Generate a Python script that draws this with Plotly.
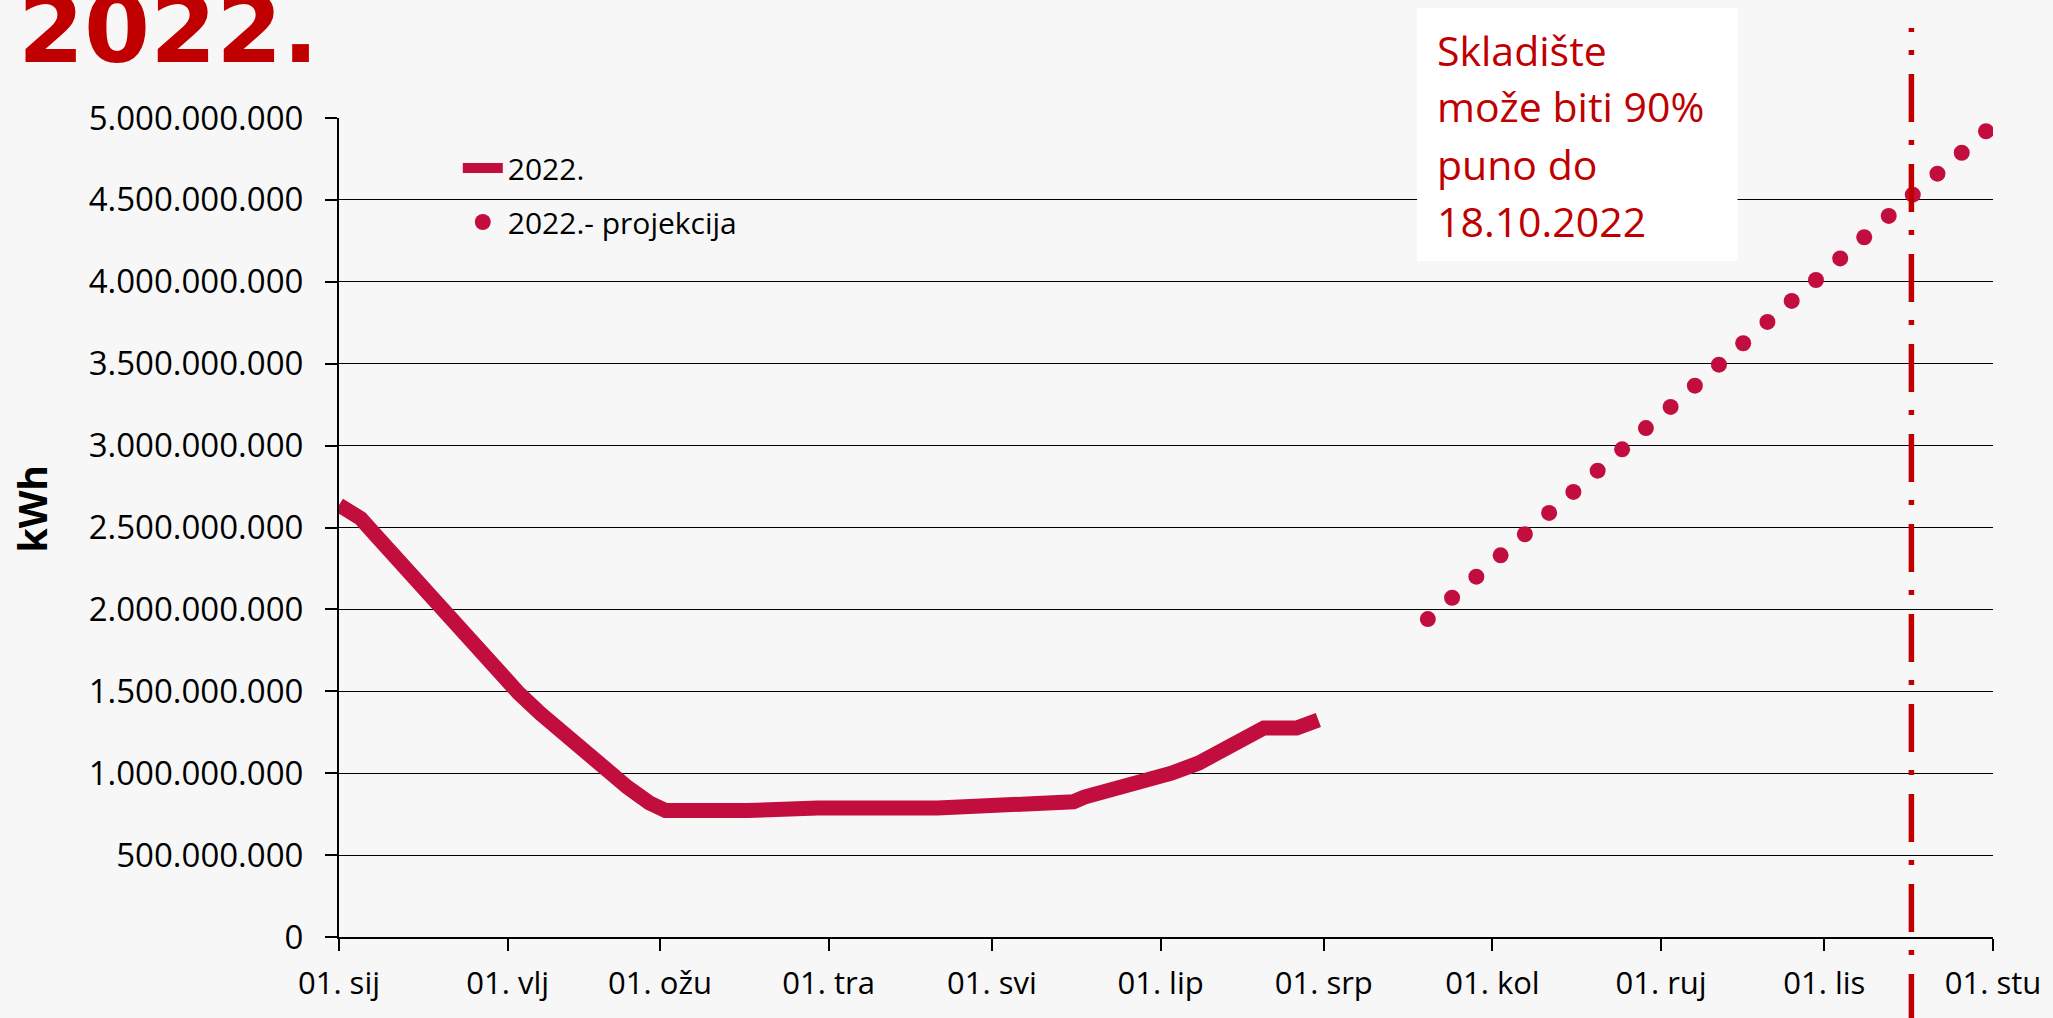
import plotly.graph_objects as go

# ---------------- data ----------------
stock_dates = [
    "2022-01-01", "2022-01-03", "2022-01-05", "2022-01-07", "2022-01-10",
    "2022-01-14", "2022-01-18", "2022-01-22", "2022-01-26", "2022-01-30",
    "2022-02-03", "2022-02-07", "2022-02-11", "2022-02-15", "2022-02-19",
    "2022-02-23", "2022-02-27", "2022-03-02",
    "2022-03-17", "2022-03-30", "2022-04-21", "2022-04-30", "2022-05-11",
    "2022-05-16", "2022-05-18", "2022-05-23", "2022-05-30", "2022-06-03",
    "2022-06-08", "2022-06-12", "2022-06-16", "2022-06-20", "2022-06-26",
    "2022-06-28", "2022-06-30",
]
stock_kwh = [
    2.637e9, 2.600e9, 2.555e9, 2.480e9, 2.370e9,
    2.215e9, 2.065e9, 1.915e9, 1.770e9, 1.625e9,
    1.490e9, 1.365e9, 1.245e9, 1.130e9, 1.020e9,
    0.915e9, 0.820e9, 0.772e9,
    0.772e9, 0.787e9, 0.787e9, 0.800e9, 0.810e9,
    0.826e9, 0.854e9, 0.897e9, 0.952e9, 1.000e9,
    1.062e9, 1.140e9, 1.200e9, 1.276e9, 1.276e9,
    1.300e9, 1.325e9,
]

proj_dates = [
    "2022-07-20 03:00", "2022-07-24 14:00", "2022-07-29 01:00", "2022-08-02 12:00",
    "2022-08-06 23:00", "2022-08-11 10:00", "2022-08-15 21:00", "2022-08-20 08:00",
    "2022-08-24 20:00", "2022-08-29 05:00", "2022-09-02 18:00", "2022-09-07 05:00",
    "2022-09-11 15:00", "2022-09-16 02:00", "2022-09-20 13:00", "2022-09-25 00:00",
    "2022-09-29 11:00", "2022-10-03 22:00", "2022-10-08 08:00", "2022-10-12 20:00",
    "2022-10-17 06:00", "2022-10-21 19:00", "2022-10-26 06:00", "2022-10-30 17:00",
]
proj_kwh = [
    1.941e9, 2.071e9, 2.200e9, 2.330e9, 2.459e9, 2.589e9, 2.717e9, 2.847e9,
    2.977e9, 3.107e9, 3.236e9, 3.366e9, 3.494e9, 3.625e9, 3.755e9, 3.883e9,
    4.011e9, 4.143e9, 4.272e9, 4.402e9, 4.532e9, 4.660e9, 4.788e9, 4.919e9,
]

month_ticks = [
    "2022-01-01", "2022-02-01", "2022-03-01", "2022-04-01", "2022-05-01", "2022-06-01",
    "2022-07-01", "2022-08-01", "2022-09-01", "2022-10-01", "2022-11-01",
]
month_labels = [
    "01. sij", "01. vlj", "01. ožu", "01. tra", "01. svi", "01. lip",
    "01. srp", "01. kol", "01. ruj", "01. lis", "01. stu",
]

full_date = "2022-10-17 00:00"
note_lines = ["Skladište", "može biti 90%", "puno do", "18.10.2022"]
series_names = ["2022.", "2022.- projekcija"]
title_text = "2022."
y_title = "kWh"

# ---------------- layout helpers ----------------
W, H = 2053, 1018
L, R, T, B = 339, 1996, 118, 937
SERIES = "#C20E3F"
DARKRED = "#C00000"
BG = "#F7F7F7"
FONT = "Open Sans"


def px_x(x):
    return (x - L) / (R - L)


def px_y(y):
    return (B - y) / (B - T)


fig = go.Figure()
fig.add_trace(go.Scatter(
    x=stock_dates, y=stock_kwh, mode="lines", name=series_names[0],
    line=dict(color=SERIES, width=15), legendgroup="a",
))
fig.add_trace(go.Scatter(
    x=proj_dates, y=proj_kwh, mode="markers", name=series_names[1],
    marker=dict(color=SERIES, size=16), legendgroup="b",
))

# dash-dot reference line (starts with partial dash at top)
dash_pattern = ",".join(["4px", "18px", "5px", "19px"] + ["48px", "18px", "5px", "19px"] * 12)
fig.add_shape(type="line", xref="x", yref="paper",
              x0=full_date, x1=full_date, y0=px_y(28), y1=px_y(1030),
              line=dict(color=DARKRED, width=5.5, dash=dash_pattern), layer="above")

# white note box
fig.add_shape(type="rect", xref="paper", yref="paper",
              x0=px_x(1419), x1=px_x(1740), y0=px_y(261), y1=px_y(8),
              fillcolor="white", line=dict(width=0), layer="above")

annotations = []
note_centers = [50, 106, 164, 221]
for txt, cy in zip(note_lines, note_centers):
    annotations.append(dict(
        text=txt, xref="paper", yref="paper", x=px_x(1437), y=px_y(cy),
        xanchor="left", yanchor="middle", showarrow=False,
        font=dict(family=FONT, size=41, color=DARKRED),
    ))

annotations.append(dict(
    text="<b>" + title_text + "</b>", xref="paper", yref="paper",
    x=px_x(15), y=px_y(86), xanchor="left", yanchor="bottom", showarrow=False,
    font=dict(family="DejaVu Sans", size=95, color=DARKRED),
))
annotations.append(dict(
    text="<b>" + y_title + "</b>", xref="paper", yref="paper",
    x=px_x(30), y=px_y(509), xanchor="center", yanchor="middle", showarrow=False,
    textangle=-90, font=dict(family=FONT, size=39, color="black"),
))

fig.update_layout(
    width=W, height=H, autosize=False,
    margin=dict(l=L, r=W - R, t=T, b=H - B, pad=0),
    paper_bgcolor=BG, plot_bgcolor=BG,
    separators=",.",
    font=dict(family=FONT, size=32, color="black"),
    showlegend=True,
    legend=dict(x=px_x(458), y=px_y(142), xanchor="left", yanchor="top",
                bgcolor="rgba(0,0,0,0)", font=dict(family=FONT, size=30, color="black"),
                tracegroupgap=12, itemwidth=40),
    annotations=annotations,
    xaxis=dict(type="date", range=["2022-01-01", "2022-11-01"],
               tickmode="array", tickvals=month_ticks, ticktext=month_labels,
               showgrid=False, zeroline=False,
               showline=True, linecolor="black", linewidth=2,
               ticks="outside", ticklen=12, tickwidth=2, tickcolor="black",
               tickfont=dict(family=FONT, size=31, color="black"),
               ticklabelstandoff=6),
    yaxis=dict(range=[0, 5e9], tickmode="linear", tick0=0, dtick=5e8,
               tickformat=",.0f", showgrid=True, gridcolor="black", gridwidth=1,
               zeroline=False, showline=True, linecolor="black", linewidth=2,
               ticks="outside", ticklen=12, tickwidth=2, tickcolor="black",
               tickfont=dict(family=FONT, size=33, color="black"),
               ticklabelstandoff=15),
)

fig.write_html("out.html", config={"displayModeBar": False},
               post_script="document.body.style.margin='0';")
